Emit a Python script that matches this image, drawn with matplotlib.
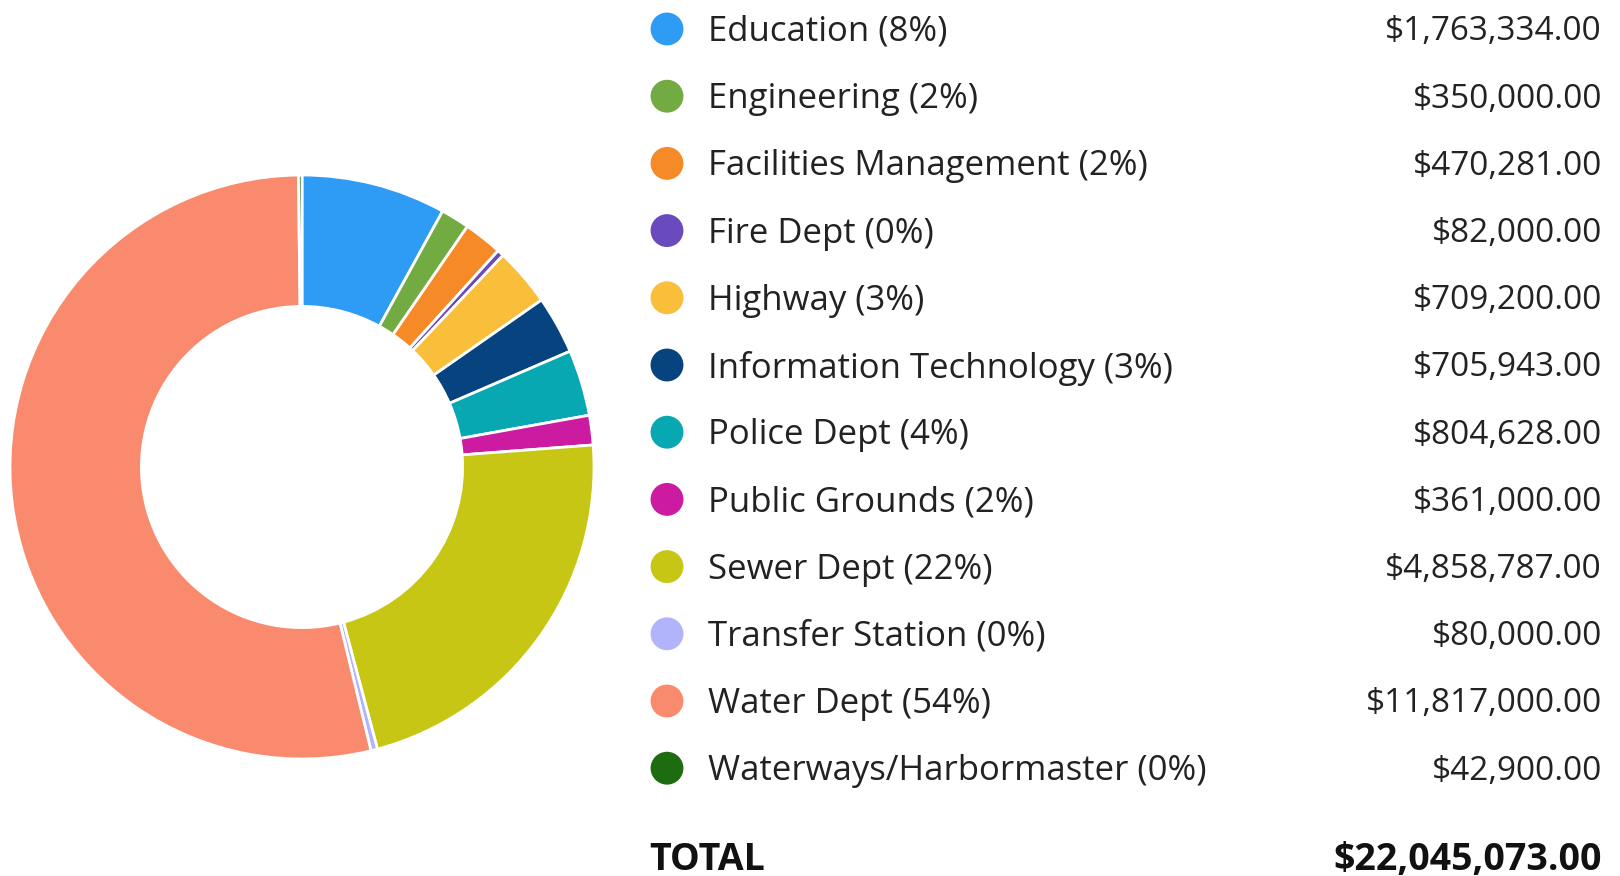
import matplotlib
matplotlib.use("Agg")
import matplotlib.pyplot as plt

# Datos del presupuesto por departamento
departamentos = ["Education", "Engineering", "Facilities Management", "Fire Dept",
                 "Highway", "Information Technology", "Police Dept", "Public Grounds",
                 "Sewer Dept", "Transfer Station", "Water Dept", "Waterways/Harbormaster"]
montos = [1763334, 350000, 470281, 82000, 709200, 705943, 804628, 361000,
          4858787, 80000, 11817000, 42900]
colores = ["#2E9BF5", "#72AB41", "#F58A26", "#6A4BBE", "#F9BE3A", "#07447F",
           "#08A8B3", "#CC1BA0", "#C7C614", "#B1B4FB", "#F98A6E", "#1D6C0F"]

total = sum(montos)
W, H = 1620, 876

plt.rcParams['font.family'] = ['Open Sans', 'DejaVu Sans']

fig = plt.figure(figsize=(W / 100, H / 100), dpi=100)

# donut
cx, cy, r = 302, 467, 292
ax = fig.add_axes([(cx - r) / W, (H - cy - r) / H, 2 * r / W, 2 * r / H])
ax.pie(montos, colors=colores, startangle=90, counterclock=False, radius=1,
       wedgeprops=dict(width=0.45, edgecolor="white", linewidth=2))
ax.set_xlim(-1, 1)
ax.set_ylim(-1, 1)
ax.set_aspect("equal")
ax.axis("off")

# leyenda con montos
lg = fig.add_axes([0, 0, 1, 1])
lg.set_xlim(0, W)
lg.set_ylim(H, 0)
lg.axis("off")

y0, paso = 32, 67.2
for i, (nombre, monto, c) in enumerate(zip(departamentos, montos, colores)):
    y = y0 + i * paso
    pct = round(100 * monto / total)
    lg.scatter(667, y - 3, s=560, color=c, edgecolor="none")
    lg.text(708, y, f"{nombre} ({pct}%)", fontsize=25, color="#222222", va="center", ha="left")
    lg.text(1602, y, f"${monto:,.2f}", fontsize=24, color="#222222", va="center", ha="right")

y_tot = 860
lg.text(649, y_tot, "TOTAL", fontsize=27, fontweight="bold", color="#111111", va="center", ha="left")
lg.text(1602, y_tot, f"${total:,.2f}", fontsize=27, fontweight="bold", color="#111111",
        va="center", ha="right")

fig.savefig("out.png", dpi=100)
